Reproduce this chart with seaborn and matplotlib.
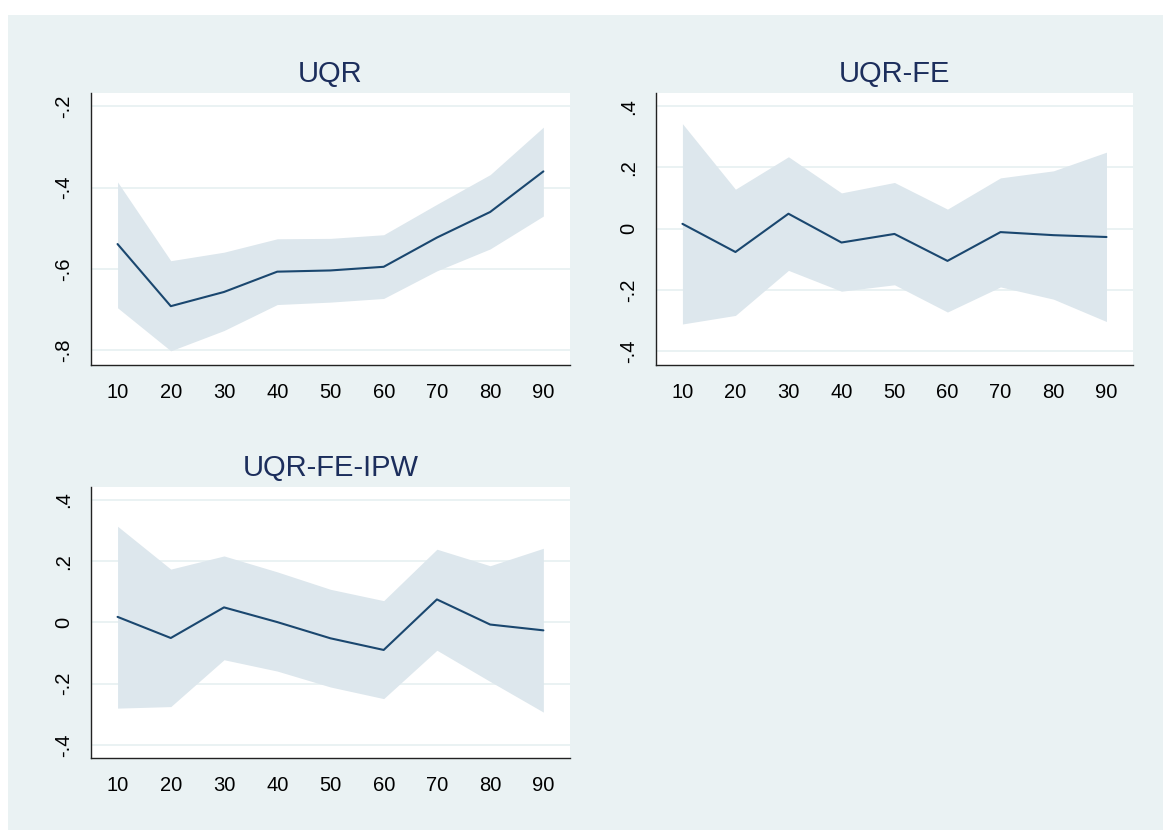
import matplotlib
matplotlib.use("Agg")
import matplotlib.pyplot as plt
from matplotlib.patches import Rectangle
import seaborn as sns
import pandas as pd

# quantiles on the x axis
quantiles = [10, 20, 30, 40, 50, 60, 70, 80, 90]

# UQR
uqr_coef = [-0.539, -0.692, -0.657, -0.607, -0.604, -0.595, -0.523, -0.460, -0.360]
uqr_hi = [-0.386, -0.580, -0.559, -0.526, -0.525, -0.516, -0.441, -0.368, -0.251]
uqr_lo = [-0.696, -0.802, -0.752, -0.688, -0.682, -0.673, -0.605, -0.551, -0.470]

# UQR-FE
fe_coef = [0.016, -0.076, 0.049, -0.045, -0.017, -0.105, -0.011, -0.021, -0.027]
fe_hi = [0.343, 0.129, 0.235, 0.117, 0.151, 0.064, 0.166, 0.189, 0.250]
fe_lo = [-0.311, -0.283, -0.136, -0.204, -0.183, -0.272, -0.190, -0.230, -0.303]

# UQR-FE-IPW
ipw_coef = [0.018, -0.051, 0.049, 0.001, -0.052, -0.090, 0.075, -0.007, -0.026]
ipw_hi = [0.314, 0.174, 0.217, 0.165, 0.108, 0.071, 0.239, 0.185, 0.242]
ipw_lo = [-0.280, -0.275, -0.122, -0.159, -0.211, -0.249, -0.091, -0.193, -0.293]

titles = ["UQR", "UQR-FE", "UQR-FE-IPW"]
yticks_uqr = [-0.8, -0.6, -0.4, -0.2]
yticks_fe = [-0.4, -0.2, 0.0, 0.2, 0.4]

BG = "#eaf2f3"
LINE = "#1a476f"
FILL = "#dde7ed"
TITLE = "#1c2e5c"

sns.set_style("white")
plt.rcParams["font.family"] = ["Liberation Sans", "DejaVu Sans"]


def stata_fmt(v):
    if abs(v) < 1e-9:
        return "0"
    s = f"{v:g}"
    return s.replace("0.", ".")


fig = plt.figure(figsize=(11.63, 8.30), dpi=100)
fig.patch.set_facecolor("white")
fig.add_artist(Rectangle((8 / 1163, 0), 1, 1 - 15 / 830, transform=fig.transFigure,
                         facecolor=BG, edgecolor="none", zorder=-10))

panels = [
    (titles[0], uqr_coef, uqr_lo, uqr_hi, yticks_uqr, (-0.837, -0.167), [0.0782, 0.5602, 0.4119, 0.3277]),
    (titles[1], fe_coef, fe_lo, fe_hi, yticks_fe, (-0.445, 0.443), [0.5640, 0.5602, 0.4102, 0.3277]),
    (titles[2], ipw_coef, ipw_lo, ipw_hi, yticks_fe, (-0.443, 0.442), [0.0782, 0.0867, 0.4119, 0.3265]),
]

for title, coef, lo, hi, yt, ylim, pos in panels:
    ax = fig.add_axes(pos)
    ax.set_facecolor("white")
    df = pd.DataFrame({"q": quantiles, "coef": coef, "lo": lo, "hi": hi})
    for y in yt:
        ax.axhline(y, color=BG, lw=1.4, zorder=0)
    ax.fill_between(df["q"], df["lo"], df["hi"], color=FILL, lw=0, zorder=1)
    sns.lineplot(data=df, x="q", y="coef", ax=ax, color=LINE, lw=1.5, zorder=2)
    ax.set_xlim(5, 95)
    ax.set_ylim(*ylim)
    ax.set_xticks(quantiles)
    ax.set_xticklabels([str(q) for q in quantiles])
    ax.set_yticks(yt)
    ax.set_yticklabels([stata_fmt(v) for v in yt])
    ax.set_xlabel("")
    ax.set_ylabel("")
    for side in ["top", "right"]:
        ax.spines[side].set_visible(False)
    for side in ["left", "bottom"]:
        ax.spines[side].set_color("#222222")
        ax.spines[side].set_linewidth(1.0)
    ax.tick_params(axis="both", direction="out", length=8, width=1.0, color="#222222",
                   labelsize=14.5, labelcolor="black", pad=5)
    ax.tick_params(axis="y", labelrotation=90)
    for lab in ax.get_yticklabels():
        lab.set_va("center")
    ax.set_title(title, fontsize=21, color=TITLE, pad=8)

fig.savefig("out.png", dpi=100, facecolor=fig.get_facecolor())
